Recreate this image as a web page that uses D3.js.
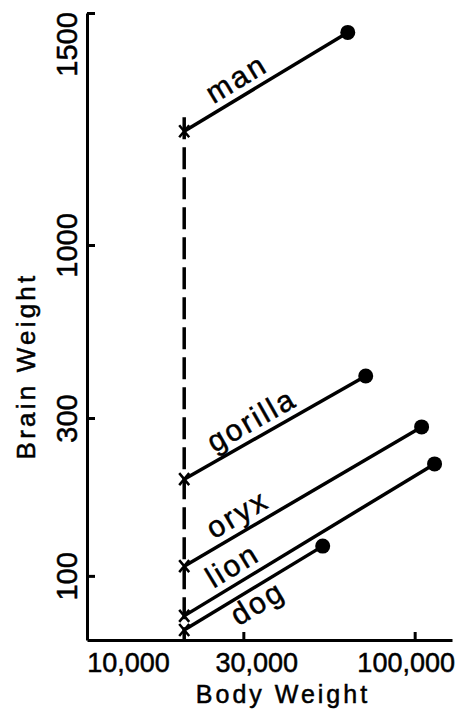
<html>
<head>
<script src="https://d3js.org/d3.v7.min.js"></script>
<style>
  body { margin: 0; background: #fff; }
  svg { font-family: "Liberation Sans", Arial, sans-serif; }
  text { fill: #000; stroke: #000; stroke-width: 0.5px; }
</style>
</head>
<body>
<svg width="460" height="709"></svg>
<script>
// values
const animals    = ["man", "gorilla", "oryx", "lion", "dog"];
const startBrain = [1220, 196, 107, 75.7, 68.6];   // brain weight at the x-mark
const endBody    = [62500, 70900, 105000, 115000, 52400];
const endBrain   = [1450, 402, 282, 218, 123];
const labelSide  = ["above", "above", "above", "above", "below"];
const markBody   = 19800;   // body weight of the dashed line
const dashTop    = 1250;    // brain weight where the dashed line starts

const yTicks = [100, 300, 1000, 1500];
const yTickLabels = ["100", "300", "1000", "1500"];
const xTicks = [10000, 30000, 100000];
const xTickLabels = ["10,000", "30,000", "100,000"];

const svg = d3.select("svg");

// odd hand drawn scales: log below 1000, stretched above
const x = d3.scaleLog().domain([10000, 130000]).range([87, 452]);
const y = d3.scaleLog().domain([64, 1000, 1500]).range([640, 245, 13]);

// y axis
const yAx = svg.append("g")
    .attr("transform", "translate(" + x(10000) + ",0)")
    .call(d3.axisLeft(y).tickValues(yTicks).tickSizeInner(-8).tickSizeOuter(0)
        .tickFormat((d, i) => yTickLabels[i]));
yAx.select(".domain").attr("stroke-width", 3);
yAx.selectAll(".tick line").attr("stroke-width", 3);
yAx.selectAll(".tick text")
    .attr("transform", "rotate(-90)")
    .attr("text-anchor", "middle")
    .attr("x", d => d == 1500 ? -31 : 0)
    .attr("y", -10)
    .attr("dy", 0)
    .style("font-size", "29px");

// x axis
const xAx = svg.append("g")
    .attr("transform", "translate(0," + y(64) + ")")
    .call(d3.axisBottom(x).tickValues(xTicks).tickSizeInner(-8).tickSizeOuter(0)
        .tickFormat((d, i) => xTickLabels[i]));
xAx.select(".domain").attr("stroke-width", 3);
xAx.selectAll(".tick line").attr("stroke-width", 3);
const xShift = [41, 13, -9];
xAx.selectAll(".tick text")
    .attr("y", 32)
    .attr("dy", 0)
    .attr("dx", (d, i) => xShift[i])
    .style("font-size", "27px");

// axis titles
svg.append("text")
    .attr("transform", "translate(35,366) rotate(-90)")
    .attr("text-anchor", "middle")
    .style("font-size", "26px")
    .style("letter-spacing", "3.2px")
    .text("Brain Weight");

svg.append("text")
    .attr("x", 283)
    .attr("y", 703)
    .attr("text-anchor", "middle")
    .style("font-size", "25px")
    .style("letter-spacing", "3px")
    .text("Body Weight");

// dashed line
svg.append("line")
    .attr("x1", x(markBody)).attr("y1", y(dashTop))
    .attr("x2", x(markBody)).attr("y2", y(64))
    .attr("stroke", "#000")
    .attr("stroke-width", 3.5)
    .attr("stroke-dasharray", "22,8");

const data = animals.map((d, i) => ({
    name: d,
    x1: x(markBody), y1: y(startBrain[i]),
    x2: x(endBody[i]), y2: y(endBrain[i]),
    side: labelSide[i]
}));

const g = svg.append("g");

g.selectAll("line.seg")
    .data(data)
    .enter()
    .append("line")
    .attr("class", "seg")
    .attr("x1", d => d.x1).attr("y1", d => d.y1)
    .attr("x2", d => d.x2).attr("y2", d => d.y2)
    .attr("stroke", "#000")
    .attr("stroke-width", 3.5);

g.selectAll("circle")
    .data(data)
    .enter()
    .append("circle")
    .attr("cx", d => d.x2)
    .attr("cy", d => d.y2)
    .attr("r", 7.5)
    .attr("fill", "#000");

g.selectAll("path.mark")
    .data(data)
    .enter()
    .append("path")
    .attr("class", "mark")
    .attr("transform", d => "translate(" + d.x1 + "," + d.y1 + ")")
    .attr("d", "M-5,-6L5,6M-5,6L5,-6")
    .attr("stroke", "#000")
    .attr("stroke-width", 2.5)
    .attr("fill", "none");

// labels along the lines
g.selectAll("text.lab")
    .data(data)
    .enter()
    .append("text")
    .attr("class", "lab")
    .attr("transform", function(d) {
        const dx = d.x2 - d.x1, dy = d.y2 - d.y1;
        const len = Math.sqrt(dx * dx + dy * dy);
        const ux = dx / len, uy = dy / len;
        const off = d.side == "above" ? 8 : -25;
        const along = d.side == "above" ? 39 : 48;
        const px = d.x1 + along * ux + off * uy;
        const py = d.y1 + along * uy - off * ux;
        const ang = Math.atan2(dy, dx) * 180 / Math.PI;
        return "translate(" + px + "," + py + ") rotate(" + ang + ")";
    })
    .style("font-size", "30px")
    .style("letter-spacing", "2.5px")
    .text(d => d.name);
</script>
</body>
</html>
